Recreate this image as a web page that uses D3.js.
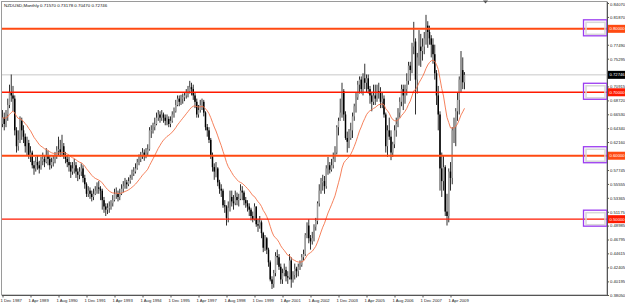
<!DOCTYPE html>
<html>
<head>
<meta charset="utf-8">
<script src="https://cdnjs.cloudflare.com/ajax/libs/d3/7.8.5/d3.min.js"></script>
<style>
  html, body { margin: 0; padding: 0; background: #fff; }
  svg { display: block; font-family: "Liberation Sans", Arial, sans-serif; }
</style>
</head>
<body>
<div id="chart"></div>
<script>
// NZDUSD monthly, Dec 1987 .. Dec 2009 (one value per month)
var symbol = "NZDUSD,Monthly";
var firstOpen = 0.650;

var closes = [
  0.660,                                                                          // 1987 Dec
  0.650,0.665,0.680,0.700,0.695,0.690,0.640,0.615,0.625,0.655,0.640,0.630,        // 1988
  0.615,0.620,0.600,0.605,0.585,0.580,0.590,0.585,0.580,0.592,0.595,0.590,        // 1989
  0.600,0.595,0.585,0.590,0.595,0.600,0.608,0.610,0.605,0.615,0.600,0.595,        // 1990
  0.590,0.585,0.575,0.580,0.585,0.575,0.570,0.575,0.580,0.565,0.555,0.540,        // 1991
  0.545,0.540,0.535,0.540,0.545,0.550,0.548,0.545,0.530,0.520,0.515,0.518,        // 1992
  0.520,0.525,0.530,0.540,0.540,0.535,0.540,0.548,0.552,0.558,0.555,0.560,        // 1993
  0.565,0.572,0.575,0.580,0.590,0.595,0.600,0.605,0.600,0.605,0.610,0.640,        // 1994
  0.640,0.645,0.650,0.660,0.665,0.660,0.665,0.660,0.655,0.658,0.650,0.655,        // 1995
  0.665,0.670,0.680,0.690,0.685,0.690,0.692,0.695,0.700,0.702,0.708,0.705,        // 1996
  0.695,0.685,0.665,0.672,0.680,0.685,0.668,0.645,0.640,0.625,0.600,0.582,        // 1997
  0.575,0.580,0.558,0.548,0.545,0.522,0.520,0.502,0.518,0.535,0.528,0.525,        // 1998
  0.535,0.530,0.532,0.545,0.542,0.530,0.525,0.520,0.515,0.505,0.500,0.520,        // 1999
  0.492,0.490,0.495,0.478,0.455,0.470,0.452,0.432,0.405,0.398,0.415,0.442,        // 2000
  0.440,0.425,0.405,0.415,0.420,0.410,0.408,0.435,0.405,0.412,0.422,0.418,        // 2001
  0.425,0.428,0.440,0.445,0.475,0.490,0.470,0.465,0.470,0.488,0.497,0.525,        // 2002
  0.545,0.558,0.560,0.552,0.580,0.585,0.578,0.585,0.595,0.605,0.645,0.655,        // 2003
  0.668,0.702,0.665,0.628,0.622,0.628,0.640,0.662,0.678,0.692,0.712,0.720,        // 2004
  0.705,0.722,0.715,0.722,0.705,0.695,0.685,0.695,0.690,0.702,0.700,0.685,        // 2005
  0.690,0.665,0.615,0.640,0.630,0.605,0.618,0.640,0.650,0.668,0.685,0.705,        // 2006
  0.695,0.705,0.718,0.742,0.735,0.772,0.780,0.720,0.755,0.772,0.765,0.772,        // 2007
  0.785,0.805,0.795,0.785,0.775,0.760,0.730,0.695,0.665,0.580,0.560,0.582,        // 2008
  0.512,0.505,0.575,0.565,0.640,0.645,0.670,0.688,0.720,0.735,0.7157,0.72746      // 2009
];

var highs = [
  0.672,
  0.668,0.672,0.690,0.712,0.728,0.710,0.695,0.645,0.640,0.662,0.660,0.648,
  0.635,0.630,0.625,0.615,0.608,0.592,0.598,0.600,0.592,0.598,0.605,0.600,
  0.612,0.608,0.600,0.597,0.600,0.606,0.615,0.630,0.625,0.633,0.620,0.606,
  0.600,0.598,0.590,0.590,0.595,0.590,0.580,0.582,0.588,0.585,0.570,0.558,
  0.552,0.550,0.545,0.548,0.552,0.558,0.560,0.552,0.548,0.535,0.525,0.525,
  0.528,0.530,0.538,0.548,0.550,0.545,0.548,0.555,0.560,0.565,0.562,0.566,
  0.570,0.578,0.582,0.588,0.595,0.602,0.606,0.612,0.610,0.612,0.618,0.645,
  0.648,0.652,0.660,0.668,0.672,0.670,0.672,0.668,0.665,0.665,0.662,0.662,
  0.670,0.676,0.688,0.695,0.695,0.696,0.698,0.700,0.705,0.710,0.718,0.715,
  0.712,0.700,0.690,0.680,0.688,0.690,0.688,0.670,0.650,0.645,0.628,0.605,
  0.588,0.590,0.582,0.562,0.555,0.548,0.530,0.522,0.528,0.545,0.545,0.538,
  0.545,0.542,0.540,0.555,0.552,0.545,0.535,0.530,0.525,0.518,0.512,0.525,
  0.520,0.500,0.505,0.498,0.480,0.475,0.472,0.455,0.435,0.410,0.420,0.448,
  0.452,0.445,0.430,0.422,0.430,0.425,0.418,0.445,0.440,0.418,0.430,0.425,
  0.430,0.435,0.445,0.452,0.478,0.495,0.500,0.475,0.480,0.492,0.502,0.528,
  0.555,0.565,0.570,0.568,0.585,0.598,0.590,0.595,0.605,0.615,0.648,0.660,
  0.690,0.715,0.705,0.670,0.638,0.642,0.652,0.668,0.682,0.700,0.718,0.725,
  0.725,0.730,0.745,0.728,0.728,0.710,0.700,0.712,0.712,0.712,0.715,0.708,
  0.700,0.695,0.668,0.648,0.660,0.640,0.622,0.648,0.660,0.675,0.692,0.712,
  0.712,0.712,0.730,0.748,0.748,0.778,0.811,0.785,0.762,0.798,0.792,0.785,
  0.795,0.822,0.812,0.805,0.790,0.785,0.775,0.735,0.710,0.670,0.605,0.600,
  0.585,0.540,0.580,0.590,0.645,0.660,0.675,0.700,0.725,0.765,0.755,0.73178
];

var lows = [
  0.645,
  0.640,0.645,0.655,0.675,0.685,0.670,0.632,0.605,0.608,0.620,0.625,0.620,
  0.605,0.600,0.595,0.590,0.580,0.570,0.575,0.578,0.572,0.578,0.585,0.582,
  0.588,0.585,0.578,0.580,0.583,0.588,0.595,0.600,0.598,0.600,0.595,0.588,
  0.582,0.575,0.565,0.570,0.572,0.565,0.560,0.563,0.568,0.558,0.548,0.535,
  0.535,0.532,0.528,0.530,0.538,0.540,0.540,0.530,0.515,0.510,0.505,0.508,
  0.510,0.515,0.520,0.528,0.532,0.528,0.530,0.538,0.542,0.548,0.548,0.552,
  0.556,0.562,0.568,0.572,0.578,0.585,0.590,0.595,0.592,0.596,0.600,0.608,
  0.628,0.635,0.640,0.648,0.655,0.652,0.655,0.652,0.648,0.648,0.645,0.645,
  0.652,0.660,0.668,0.678,0.678,0.680,0.682,0.686,0.690,0.692,0.698,0.695,
  0.688,0.675,0.660,0.660,0.668,0.672,0.662,0.640,0.630,0.620,0.595,0.575,
  0.562,0.566,0.552,0.540,0.535,0.518,0.510,0.490,0.495,0.512,0.520,0.515,
  0.522,0.522,0.520,0.530,0.530,0.522,0.518,0.512,0.505,0.498,0.495,0.498,
  0.488,0.480,0.485,0.470,0.448,0.450,0.445,0.425,0.402,0.390,0.392,0.410,
  0.428,0.420,0.398,0.398,0.410,0.402,0.398,0.405,0.392,0.400,0.405,0.408,
  0.410,0.420,0.425,0.435,0.442,0.470,0.462,0.452,0.460,0.465,0.482,0.492,
  0.520,0.540,0.545,0.540,0.548,0.570,0.572,0.575,0.580,0.590,0.602,0.632,
  0.655,0.660,0.655,0.625,0.605,0.612,0.625,0.628,0.655,0.668,0.688,0.698,
  0.698,0.695,0.705,0.700,0.698,0.682,0.670,0.680,0.680,0.685,0.690,0.675,
  0.675,0.660,0.605,0.598,0.625,0.593,0.598,0.612,0.630,0.645,0.660,0.678,
  0.672,0.682,0.695,0.712,0.718,0.730,0.760,0.665,0.698,0.742,0.740,0.750,
  0.760,0.775,0.770,0.775,0.755,0.745,0.720,0.680,0.640,0.545,0.535,0.545,
  0.505,0.490,0.495,0.545,0.555,0.620,0.615,0.655,0.665,0.700,0.705,0.7047
];

// horizontal levels drawn on the chart, and the visible price labels of the right scale
var levels = [0.80, 0.70, 0.60, 0.50];
var yTicks = [0.84070, 0.81870, 0.77490, 0.75295, 0.70915, 0.68720,
              0.66530, 0.64340, 0.62160, 0.57745, 0.55555, 0.53365, 0.51175,
              0.48985, 0.46795, 0.44615, 0.42405, 0.40195, 0.38050];
var xTickMonths = [0, 16, 32, 48, 64, 80, 96, 112, 128, 144, 160, 176, 192, 208, 224, 240, 256];
var xTickLabels = ["1 Dec 1987", "1 Apr 1989", "1 Aug 1990", "1 Dec 1991", "1 Apr 1993",
                   "1 Aug 1994", "1 Dec 1995", "1 Apr 1997", "1 Aug 1998", "1 Dec 1999",
                   "1 Apr 2001", "1 Aug 2002", "1 Dec 2003", "1 Apr 2005", "1 Aug 2006",
                   "1 Dec 2007", "1 Apr 2009"];
var maPeriod = 20;

// styles for the levels (kept apart from the data)
var levelColor = ["#ff4a12", "#ff1a00", "#ff4a12", "#ff1a00"];
var levelWidth = [2, 1.6, 2, 1.2];
var fs = 4.2;

var W = 625, H = 304,
    plot = {left: 2, right: 607, top: 2, bottom: 295};

var n = closes.length;
var bars = closes.map(function(c, i) {
  return {i: i, o: i ? closes[i - 1] : firstOpen, h: highs[i], l: lows[i], c: c};
});

// exponential moving average of the closes (the indicator on the chart)
var k = 2 / (maPeriod + 1), ma = [];
closes.forEach(function(c, i) { ma.push(i ? ma[i - 1] + (c - ma[i - 1]) * k : c); });

var x = d3.scaleLinear().domain([0, n - 1]).range([2.5, 2.5 + (n - 1) * 1.75]);
var y = d3.scaleLinear().domain([0.3805, 0.8407]).range([plot.bottom, 3]);

var svg = d3.select("#chart").append("svg")
    .attr("width", W).attr("height", H);

// frame
svg.append("rect")
    .attr("x", plot.left - 0.5).attr("y", plot.top - 0.5)
    .attr("width", plot.right - plot.left + 0.5).attr("height", plot.bottom - plot.top + 0.5)
    .attr("fill", "none").attr("stroke", "#9a9a9a").attr("stroke-width", 1);

// current price line
var last = bars[n - 1];
svg.append("line")
    .attr("x1", plot.left).attr("x2", plot.right)
    .attr("y1", y(last.c)).attr("y2", y(last.c))
    .attr("stroke", "#c8c8c8").attr("stroke-width", 1);

// bars
var g = svg.append("g").attr("id", "bars");
g.selectAll("line.wick").data(bars).enter().append("line")
    .attr("class", "wick")
    .attr("x1", function(d) { return x(d.i); }).attr("x2", function(d) { return x(d.i); })
    .attr("y1", function(d) { return y(d.h); }).attr("y2", function(d) { return y(d.l); })
    .attr("stroke", "#1a1a1a").attr("stroke-width", 0.9);
g.selectAll("rect.body").data(bars).enter().append("rect")
    .attr("class", "body")
    .attr("x", function(d) { return x(d.i) - 0.75; })
    .attr("width", 1.5)
    .attr("y", function(d) { return y(Math.max(d.o, d.c)); })
    .attr("height", function(d) { return Math.max(0.8, Math.abs(y(d.o) - y(d.c))); })
    .attr("fill", function(d) { return d.c >= d.o ? "#9c9c9c" : "#000"; });

// moving average
svg.append("path")
    .datum(ma)
    .attr("fill", "none").attr("stroke", "#f4734a").attr("stroke-width", 0.9)
    .attr("d", d3.line().x(function(d, i) { return x(i); }).y(function(d) { return y(d); }));

// level lines
svg.selectAll("line.level").data(levels).enter().append("line")
    .attr("class", "level")
    .attr("x1", plot.left).attr("x2", plot.right)
    .attr("y1", function(d) { return y(d); }).attr("y2", function(d) { return y(d); })
    .attr("stroke", function(d, i) { return levelColor[i]; })
    .attr("stroke-width", function(d, i) { return levelWidth[i]; });

// label frames near the right edge of each level
var boxes = svg.selectAll("g.box").data(levels).enter().append("g").attr("class", "box");
boxes.append("rect")
    .attr("x", 586).attr("y", function(d) { return y(d) - 6.5; })
    .attr("width", 19).attr("height", 12)
    .attr("fill", "none").attr("stroke", "#d8d8d8").attr("stroke-width", 1.5);
boxes.append("rect")
    .attr("x", 583.5).attr("y", function(d) { return y(d) - 9; })
    .attr("width", 23.5).attr("height", 16)
    .attr("fill", "none").attr("stroke", "#9b3cf0").attr("stroke-width", 1.3);

// right price axis
var yAxis = svg.append("g")
    .attr("transform", "translate(" + plot.right + ",0)")
    .call(d3.axisRight(y).tickValues(yTicks).tickSize(2).tickPadding(1)
          .tickFormat(function(d) { return d.toFixed(5); }));
yAxis.select(".domain").attr("stroke", "#555").attr("d", "M0.5," + plot.top + "V" + plot.bottom);
yAxis.selectAll(".tick line").attr("stroke", "#555");
yAxis.selectAll("text").attr("font-size", fs).attr("fill", "#222")
    .attr("font-family", "'Liberation Sans', Arial, sans-serif");
// keep the top label inside the picture
yAxis.selectAll(".tick").filter(function(d) { return d === yTicks[0]; })
    .select("text").attr("dy", "0.6em");

// bottom time axis
var xAxis = svg.append("g")
    .attr("transform", "translate(0," + plot.bottom + ")")
    .call(d3.axisBottom(x).tickValues(xTickMonths).tickSize(2.5).tickPadding(1.2)
          .tickFormat(function(d, i) { return xTickLabels[i]; }));
xAxis.select(".domain").attr("stroke", "#555").attr("d", "M" + plot.left + ",0.5H" + plot.right);
xAxis.selectAll(".tick line").attr("stroke", "#555");
xAxis.selectAll("text").attr("font-size", fs).attr("fill", "#222")
    .attr("text-anchor", "start").attr("dx", -2.5)
    .attr("font-family", "'Liberation Sans', Arial, sans-serif");

// coloured price tags on the scale
var tags = svg.selectAll("g.tag").data(levels).enter().append("g").attr("class", "tag");
tags.append("rect")
    .attr("x", plot.right + 1).attr("y", function(d) { return y(d) - 4; })
    .attr("width", W - plot.right - 1).attr("height", 8)
    .attr("fill", function(d, i) { return levelColor[i]; });
tags.append("text")
    .attr("x", plot.right + 2.5).attr("y", function(d) { return y(d); })
    .attr("dy", "0.35em").attr("font-size", fs).attr("fill", "#fff")
    .text(function(d) { return d.toFixed(5); });

// current price tag
svg.append("rect")
    .attr("x", plot.right + 1).attr("y", y(last.c) - 4)
    .attr("width", W - plot.right - 1).attr("height", 8).attr("fill", "#000");
svg.append("text")
    .attr("x", plot.right + 2.5).attr("y", y(last.c)).attr("dy", "0.35em")
    .attr("font-size", fs).attr("fill", "#fff")
    .text(last.c.toFixed(5));

// chart shift marker
svg.append("path")
    .attr("d", "M483,0.5L488,0.5L485.5,3.5Z")
    .attr("fill", "#555");

// header
svg.append("text")
    .attr("x", 4).attr("y", 6.5)
    .attr("font-size", 4.4).attr("fill", "#111")
    .text(symbol + "  " + [last.o, last.h, last.l, last.c].map(function(v) { return v.toFixed(5); }).join(" "));
</script>
</body>
</html>
